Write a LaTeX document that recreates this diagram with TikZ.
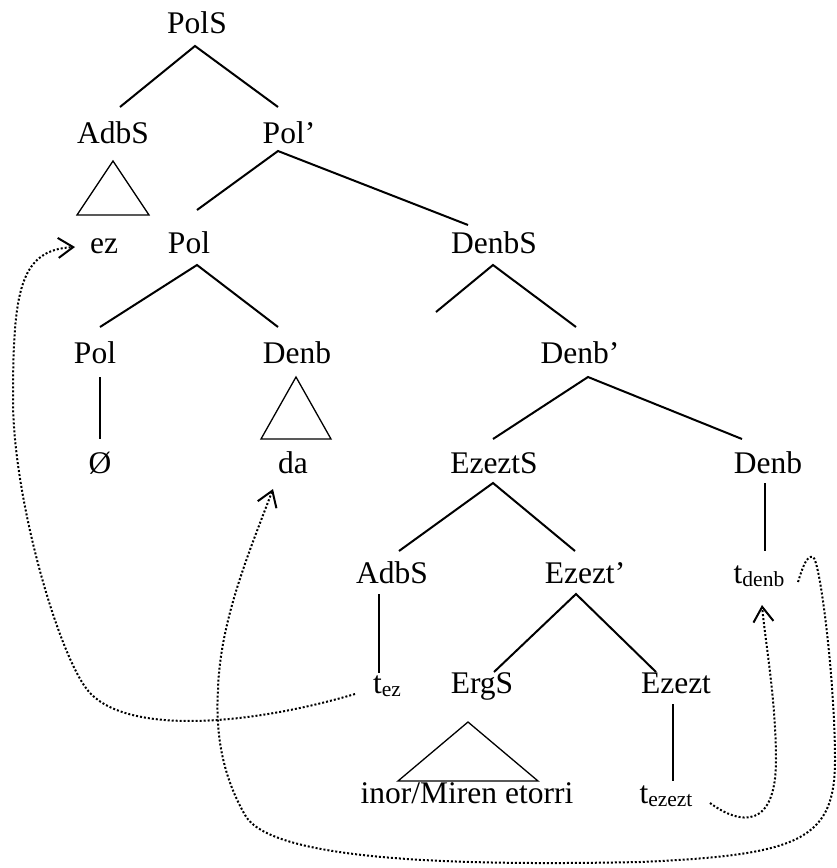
\documentclass[tikz,border=0pt]{standalone}
\usepackage{fontspec}
\setmainfont{Liberation Serif}
\usetikzlibrary{arrows.meta}
\newcommand\subtxt[1]{\raisebox{-3pt}{\fontsize{21.5}{21.5}\selectfont #1}}
\begin{document}
\begin{tikzpicture}[x=1pt,y=-1pt,
  lbl/.style={inner sep=0pt,anchor=base,font=\fontsize{31.5}{37}\selectfont},
  branch/.style={line width=2pt},
  tri/.style={line width=1.3pt,line join=miter},
  movebase/.style={line width=2pt,dash pattern=on 2pt off 2pt},
  mov/.style={movebase,-{Straight Barb[length=15pt,width=20pt,line width=2pt]}}]
\useasboundingbox (0,0) rectangle (837,868);

% nodes
\node[lbl] (PolS) at (197,33) {PolS};
\node[lbl] (AdbSa) at (113,143) {AdbS};
\node[lbl] (Polp) at (289,143) {Pol’};
\node[lbl] (ez) at (104,253) {ez};
\node[lbl] (Pola) at (189,253) {Pol};
\node[lbl] (DenbS) at (494,253) {DenbS};
\node[lbl] (Polb) at (95,363) {Pol};
\node[lbl] (Denba) at (297,363) {Denb};
\node[lbl] (Denbp) at (580,363) {Denb’};
\node[lbl] (empty) at (100,473) {Ø};
\node[lbl] (da) at (293,473) {da};
\node[lbl] (EzeztS) at (494,473) {EzeztS};
\node[lbl] (Denbb) at (768,473) {Denb};
\node[lbl] (AdbSb) at (392,583) {AdbS};
\node[lbl] (Ezeztp) at (585,583) {Ezezt’};
\node[lbl] (tdenb) at (759,583) {t\subtxt{denb}};
\node[lbl] (tez) at (387,693) {t\subtxt{ez}};
\node[lbl] (ErgS) at (482,693) {ErgS};
\node[lbl] (Ezezt) at (676,693) {Ezezt};
\node[lbl] (inor) at (467,803) {inor/Miren etorri};
\node[lbl] (tezezt) at (666,803) {t\subtxt{ezezt}};

% attachment points
\coordinate (PolS-b) at ([shift={(-2,13)}]PolS.base);
\coordinate (AdbSa-t) at ([shift={(7,-36)}]AdbSa.base);
\coordinate (Polp-t) at ([shift={(-11,-36)}]Polp.base);
\coordinate (Polp-b) at ([shift={(-11,8)}]Polp.base);
\coordinate (Pola-t) at ([shift={(8,-43)}]Pola.base);
\coordinate (Pola-b) at ([shift={(8,12)}]Pola.base);
\coordinate (DenbS-t) at ([shift={(-26,-28)}]DenbS.base);
\coordinate (DenbS-b) at ([shift={(-1,12)}]DenbS.base);
\coordinate (DenbS-spec) at ([shift={(-58,59)}]DenbS.base);
\coordinate (Polb-t) at ([shift={(5,-36)}]Polb.base);
\coordinate (Polb-b) at ([shift={(5,14)}]Polb.base);
\coordinate (Denba-t) at ([shift={(-19,-36)}]Denba.base);
\coordinate (Denbp-t) at ([shift={(-4,-36)}]Denbp.base);
\coordinate (Denbp-b) at ([shift={(8,14)}]Denbp.base);
\coordinate (empty-t) at ([shift={(0,-34)}]empty.base);
\coordinate (EzeztS-t) at ([shift={(-1,-34)}]EzeztS.base);
\coordinate (EzeztS-b) at ([shift={(-1,10)}]EzeztS.base);
\coordinate (Denbb-t) at ([shift={(-26,-34)}]Denbb.base);
\coordinate (Denbb-b) at ([shift={(-3,10)}]Denbb.base);
\coordinate (AdbSb-t) at ([shift={(7,-32)}]AdbSb.base);
\coordinate (AdbSb-b) at ([shift={(-13,11)}]AdbSb.base);
\coordinate (Ezeztp-t) at ([shift={(-10,-32)}]Ezeztp.base);
\coordinate (Ezeztp-b) at ([shift={(-9,11)}]Ezeztp.base);
\coordinate (tdenb-t) at ([shift={(6,-32)}]tdenb.base);
\coordinate (tez-t) at ([shift={(-8,-20)}]tez.base);
\coordinate (ErgS-t) at ([shift={(12,-21)}]ErgS.base);
\coordinate (Ezezt-t) at ([shift={(-20,-21)}]Ezezt.base);
\coordinate (Ezezt-b) at ([shift={(-3,11)}]Ezezt.base);
\coordinate (tezezt-t) at ([shift={(7,-22)}]tezezt.base);

% branches
\draw[branch] (AdbSa-t) -- (PolS-b) -- (Polp-t);
\draw[branch] (Pola-t) -- (Polp-b) -- (DenbS-t);
\draw[branch] (Polb-t) -- (Pola-b) -- (Denba-t);
\draw[branch] (DenbS-spec) -- (DenbS-b) -- (Denbp-t);
\draw[branch] (Polb-b) -- (empty-t);
\draw[branch] (EzeztS-t) -- (Denbp-b) -- (Denbb-t);
\draw[branch] (AdbSb-t) -- (EzeztS-b) -- (Ezeztp-t);
\draw[branch] (Denbb-b) -- (tdenb-t);
\draw[branch] (AdbSb-b) -- (tez-t);
\draw[branch] (ErgS-t) -- (Ezeztp-b) -- (Ezezt-t);
\draw[branch] (Ezezt-b) -- (tezezt-t);

% triangles
\draw[tri] ([shift={(0,18)}]AdbSa.base) -- ([shift={(-36,72)}]AdbSa.base) -- ([shift={(36,72)}]AdbSa.base) -- cycle;
\draw[tri] ([shift={(-1,14)}]Denba.base) -- ([shift={(-36,76)}]Denba.base) -- ([shift={(34,76)}]Denba.base) -- cycle;
\draw[tri] ([shift={(-14,29)}]ErgS.base) -- ([shift={(-84,88)}]ErgS.base) -- ([shift={(56,88)}]ErgS.base) -- cycle;

% movement ends
\coordinate (tez-e) at ([shift={(-32,1)}]tez.base);
\coordinate (ez-e) at ([shift={(-29,-6)}]ez.base);
\coordinate (tezezt-e) at ([shift={(44,0)}]tezezt.base);
\coordinate (tdenb-e) at ([shift={(3,22)}]tdenb.base);
\coordinate (tdenb-s) at ([shift={(39,-1)}]tdenb.base);
\coordinate (da-e) at ([shift={(-20,16)}]da.base);

% movement arrows
\draw[mov] (tez-e) .. controls (250,725) and (130,735) .. (90,693)
  .. controls (60,661) and (13,500) .. (13,400)
  .. controls (13,290) and (20,250) .. (ez-e);
\draw[mov] (tezezt-e) .. controls (740,825) and (776,830) .. (776,760)
  .. controls (776,700) and (765,640) .. (tdenb-e);
\draw[mov] (tdenb-s) .. controls (803,566) and (807,555) .. (813,557)
  .. controls (820,560) and (835,680) .. (835,760)
  .. controls (835,840) and (800,855) .. (640,862)
  .. controls (450,866) and (270,860) .. (245,815)
  .. controls (225,780) and (215,740) .. (218,690)
  .. controls (220,620) and (250,550) .. (da-e);
\end{tikzpicture}
\end{document}
